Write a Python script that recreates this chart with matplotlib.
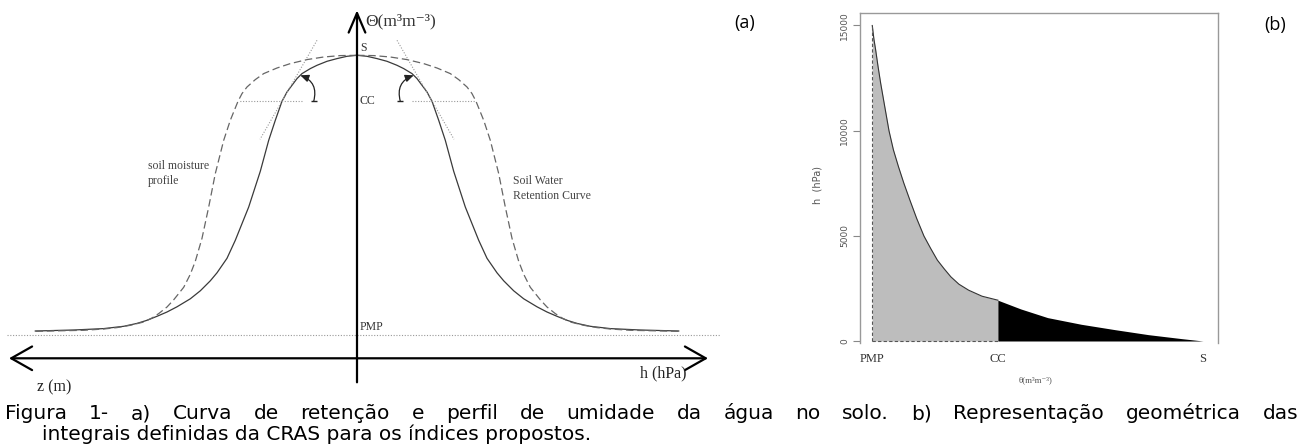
# Curva de retencao / perfil de umidade (a) e integrais da CRAS (b)
import numpy as np
import matplotlib.pyplot as plt

# ---------------- data ----------------
# panel (a): right half of the curves, h = distance from the theta axis, theta = height
swrc_h = [0, 10, 20, 30, 40, 46.7, 55, 60, 65, 70, 75, 81.7, 88.3, 96.7, 108.3, 121.7,
          130, 140, 146.7, 156.7, 166.7, 180, 190, 200, 210, 220, 233.3, 253.3, 283.3, 321.7]
swrc_theta = [303, 302, 299.7, 297, 293, 289.7, 284.7, 279.7, 273, 266.3, 257, 238, 218,
              187, 151.3, 118, 100, 85.5, 77.5, 67.5, 59.5, 51.5, 46.3, 42, 38, 34.9,
              32, 29.7, 28.3, 27.3]
prof_h = [0, 16.7, 33.3, 50, 66.7, 80, 93.3, 101.7, 110, 115, 119, 126.7, 133.3, 141.7,
          148.3, 155, 161.7, 166.7, 173.3, 183.3, 190, 198.3, 205, 213.3, 226.7, 240,
          253.3, 273.3, 321.7]
prof_theta = [303, 302.7, 301.3, 298.7, 294.7, 290.3, 284.7, 278.7, 271.3, 264.7, 257, 238,
              218, 184.7, 151.3, 120, 97, 84, 71, 58.5, 51.3, 44.7, 40.3, 36.3, 33,
              30.7, 29.3, 28, 27]
theta_s_a, theta_cc_a, theta_pmp_a = 303, 257, 23
tangent_h = [40, 97]
tangent_theta = [318, 219]
cc_line_h = [55, 118]
angle_start = (43.3, 257)
angle_end = (56.7, 283)

# panel (b): h(theta) curve, split at field capacity
theta_pmp, theta_cc, theta_s = 0.10, 0.22, 0.416
theta_dry = [0.1000, 0.1016, 0.1032, 0.1055, 0.1080, 0.1119, 0.1160, 0.1202, 0.1250, 0.1302,
             0.1359, 0.1424, 0.1494, 0.1558, 0.1622, 0.1687, 0.1751, 0.1828, 0.1921, 0.2049, 0.2200]
h_dry = [15000, 14350, 13856, 13062, 12267, 11155, 9995, 9089, 8295, 7500,
         6706, 5832, 4989, 4402, 3845, 3432, 3051, 2701, 2415, 2129, 1940]
theta_wet = [0.2200, 0.2418, 0.2675, 0.2996, 0.3317, 0.3637, 0.3958, 0.4160]
h_wet = [1940, 1525, 1112, 795, 540, 302, 111, 0]
yticks_b = [0, 5000, 10000, 15000]
xtick_labels_b = ['PMP', 'CC', 'S']

caption1 = "Figura 1- a) Curva de retenção e perfil de umidade da água no solo. b) Representação geométrica das"
caption2 = "integrais definidas da CRAS para os índices propostos."

W, H = 1305, 448
fig = plt.figure(figsize=(W / 100, H / 100), dpi=100)
serif = ['Liberation Serif', 'DejaVu Serif']

# ---------------- panel (a) ----------------
ax = fig.add_axes([0, 58 / H, 720 / W, 390 / H])
ax.set_xlim(-357, 363)
ax.set_ylim(-31.7, 358.3)
ax.axis('off')

sh = np.array(swrc_h)
ph = np.array(prof_h)
ax.plot(sh, swrc_theta, color='#3a3a3a', lw=0.9)
ax.plot(-sh, swrc_theta, color='#3a3a3a', lw=0.9)
ax.plot(ph, prof_theta, color='#666666', lw=0.9, dashes=(6, 3))
ax.plot(-ph, prof_theta, color='#666666', lw=0.9, dashes=(6, 3))

# dotted helper lines
dot = dict(color='#999999', lw=0.8, ls=(0, (1, 1.5)))
ax.plot([-350, 363], [theta_pmp_a, theta_pmp_a], **dot)
ax.plot(cc_line_h, [theta_cc_a] * 2, **dot)
ax.plot([-v for v in cc_line_h], [theta_cc_a] * 2, **dot)
ax.plot(tangent_h, tangent_theta, **dot)
ax.plot([-v for v in tangent_h], tangent_theta, **dot)

# axes arrows
ax.annotate('', xy=(-348, 0), xytext=(351, 0),
            arrowprops=dict(arrowstyle='<->,head_length=1.5,head_width=0.85', lw=1.6,
                            color='black', shrinkA=0, shrinkB=0))
ax.annotate('', xy=(0, 348), xytext=(0, -24),
            arrowprops=dict(arrowstyle='->,head_length=1.4,head_width=0.6', lw=1.6,
                            color='black', shrinkA=0, shrinkB=0))

# angle arcs
arc_style = '-|>,head_length=0.5,head_width=0.22'
for sgn in [1, -1]:
    ax.annotate('', xy=(sgn * angle_end[0], angle_end[1]),
                xytext=(sgn * angle_start[0], angle_start[1]),
                arrowprops=dict(arrowstyle=arc_style, connectionstyle='arc3,rad=%.2f' % (-0.45 * sgn),
                                lw=0.9, color='#222222', shrinkA=0, shrinkB=0))
    ax.plot(sgn * angle_start[0], angle_start[1], marker='_', ms=5, mew=1, color='#222222')

# labels
ax.text(8, 337, 'Θ(m³m⁻³)', family=serif, fontsize=12.5, va='center', ha='left', color='#333333')
ax.text(3, 310, 'S', family=serif, fontsize=8.5, va='center', color='#333333')
ax.text(3, theta_cc_a, 'CC', family=serif, fontsize=8.5, va='center', color='#333333')
ax.text(3, 31, 'PMP', family=serif, fontsize=8.5, va='center', color='#333333')
ax.text(-209, 185, 'soil moisture\nprofile', family=serif, fontsize=8.5, va='center',
        color='#444444', linespacing=1.3)
ax.text(156, 170, 'Soil Water\nRetention Curve', family=serif, fontsize=8.5, va='center',
        color='#444444', linespacing=1.3)
ax.text(-320, -29, 'z (m)', family=serif, fontsize=11.5, va='center', color='#222222')
ax.text(283, -15, 'h (hPa)', family=serif, fontsize=11.5, va='center', color='#222222')

fig.text(745 / W, 1 - 23 / H, '(a)', family='Open Sans', fontsize=13, ha='center', va='center')
fig.text(1275 / W, 1 - 25 / H, '(b)', family='Open Sans', fontsize=13, ha='center', va='center')

# ---------------- panel (b) ----------------
bx = fig.add_axes([860 / W, 105 / H, 357.7 / W, 329.7 / H])
bx.set_xlim(0.0883, 0.430)
bx.set_ylim(-95, 15580)
bx.fill_between(theta_dry, h_dry, color='#bdbdbd', lw=0)
bx.fill_between(theta_wet, h_wet, color='black', lw=0)
bx.plot(theta_dry, h_dry, color='#333333', lw=0.8)
bx.plot([theta_pmp, theta_pmp], [0, h_dry[0]], color='#555555', lw=0.8, dashes=(3, 2))
bx.plot([theta_pmp, theta_cc], [0, 0], color='#555555', lw=0.8, dashes=(3, 2))

for side in ['left', 'top', 'right']:
    bx.spines[side].set_color('#999999')
    bx.spines[side].set_linewidth(1)
bx.spines['bottom'].set_visible(False)

bx.set_yticks(yticks_b)
bx.set_yticklabels([str(v) for v in yticks_b], rotation=90, va='center')
bx.tick_params(axis='y', direction='out', length=5, color='#888888', labelsize=6.5,
               labelcolor='#555555', pad=3)
bx.set_xticks([theta_pmp, theta_cc, theta_s])
bx.set_xticklabels(xtick_labels_b, family=serif, fontsize=9, color='#333333')
bx.tick_params(axis='x', length=0, pad=7)
bx.set_ylabel('h  (hPa)', fontsize=7, color='#555555')
bx.yaxis.set_label_coords(-0.105, 0.48)
bx.set_xlabel('θ(m³m⁻³)', family=serif, fontsize=6.5, color='#555555')
bx.xaxis.set_label_coords(0.49, -0.1)

# ---------------- caption (first line justified) ----------------
cap = dict(family='DejaVu Sans', fontsize=14.5, color='black', va='baseline')
words = caption1.split(' ')
renderer = fig.canvas.get_renderer()
texts = [fig.text(0, 1 - 419 / H, w, **cap) for w in words]
widths = [t.get_window_extent(renderer).width for t in texts]
gap = (1298 - 5 - sum(widths)) / (len(words) - 1)
x = 5
for t, wd in zip(texts, widths):
    t.set_x(x / W)
    x += wd + gap
fig.text(42 / W, 1 - 440 / H, caption2, **cap)

fig.savefig('out.png', dpi=100)
